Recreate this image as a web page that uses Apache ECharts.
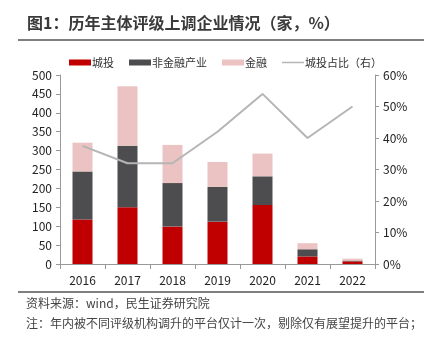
<!DOCTYPE html>
<html><head><meta charset="utf-8">
<script src="https://cdn.jsdelivr.net/npm/echarts@6/dist/echarts.min.js"></script>
<style>html,body{margin:0;padding:0;background:#fff}#c{width:434px;height:338px}</style>
</head><body><div id="c"></div>
<script>
var years = ['2016','2017','2018','2019','2020','2021','2022'];
var chengtou = [118, 150, 99, 112, 156, 20, 7];
var feijinrong = [127, 163, 115, 92, 76, 19, 2];
var jinrong = [76, 157, 101, 66, 60, 16, 5];
var ratio = [37.5, 32, 32, 42, 54, 40, 50];
var leftTicks = [0, 500, 50];
var rightTicks = [0, 60, 10];
var FONT = '"Noto Sans CJK SC", "Noto Sans", sans-serif';
var chart = echarts.init(document.getElementById('c'), null, {renderer: 'canvas'});
chart.setOption({
  animation: false,
  textStyle: {fontFamily: FONT},
  graphic: [
    {type: 'text', left: 27, top: 15, style: {text: '图1：历年主体评级上调企业情况（家，%）', font: 'bold 16px ' + FONT, fill: '#3a3a3a'}},
    {type: 'line', shape: {x1: 18, y1: 40, x2: 424, y2: 40}, style: {stroke: '#555', lineWidth: 1.5}},
    {type: 'line', shape: {x1: 18, y1: 292, x2: 424, y2: 292}, style: {stroke: '#555', lineWidth: 1.5}},
    {type: 'text', left: 26, top: 297, style: {text: '资料来源：wind，民生证券研究院', font: '12px ' + FONT, fill: '#444'}},
    {type: 'text', left: 26, top: 317, style: {text: '注：年内被不同评级机构调升的平台仅计一次，剔除仅有展望提升的平台；', font: '12px ' + FONT, fill: '#444'}}
  ],
  legend: {
    top: 52, left: 64, itemWidth: 22, itemHeight: 6, itemGap: 15,
    textStyle: {fontSize: 11, color: '#333', fontFamily: FONT, padding: [0, 0, 0, -4]},
    data: [
      {name: '城投', icon: 'rect'},
      {name: '非金融产业', icon: 'rect'},
      {name: '金融', icon: 'rect'},
      {name: '城投占比（右）', icon: 'path://M0,0h22v1.5h-22z'}
    ]
  },
  grid: {left: 60, right: 59, top: 75, bottom: 74},
  xAxis: {
    type: 'category', data: years,
    axisLine: {lineStyle: {color: '#999'}},
    axisTick: {show: true, length: 5, lineStyle: {color: '#999'}},
    axisLabel: {color: '#222', fontSize: 12, margin: 10, fontFamily: FONT}
  },
  yAxis: [
    {type: 'value', min: leftTicks[0], max: leftTicks[1], interval: leftTicks[2],
     axisLine: {show: true, lineStyle: {color: '#999'}},
     axisTick: {show: true, length: 4, lineStyle: {color: '#999'}},
     splitLine: {show: false},
     axisLabel: {color: '#222', fontSize: 12, margin: 8, fontFamily: FONT}},
    {type: 'value', min: rightTicks[0], max: rightTicks[1], interval: rightTicks[2],
     axisLine: {show: true, lineStyle: {color: '#999'}},
     axisTick: {show: true, length: 4, lineStyle: {color: '#999'}},
     splitLine: {show: false},
     axisLabel: {color: '#222', fontSize: 12, margin: 8, formatter: '{value}%', fontFamily: FONT}}
  ],
  series: [
    {name: '城投', type: 'bar', stack: 's', data: chengtou, barWidth: 20, itemStyle: {color: '#C00000'}},
    {name: '非金融产业', type: 'bar', stack: 's', data: feijinrong, itemStyle: {color: '#4D4D4F'}},
    {name: '金融', type: 'bar', stack: 's', data: jinrong, itemStyle: {color: '#EBC3C3'}},
    {name: '城投占比（右）', type: 'line', yAxisIndex: 1, data: ratio, symbol: 'none',
     lineStyle: {color: '#B5B5B5', width: 2}, itemStyle: {color: '#B5B5B5'}}
  ]
});
</script></body></html>
